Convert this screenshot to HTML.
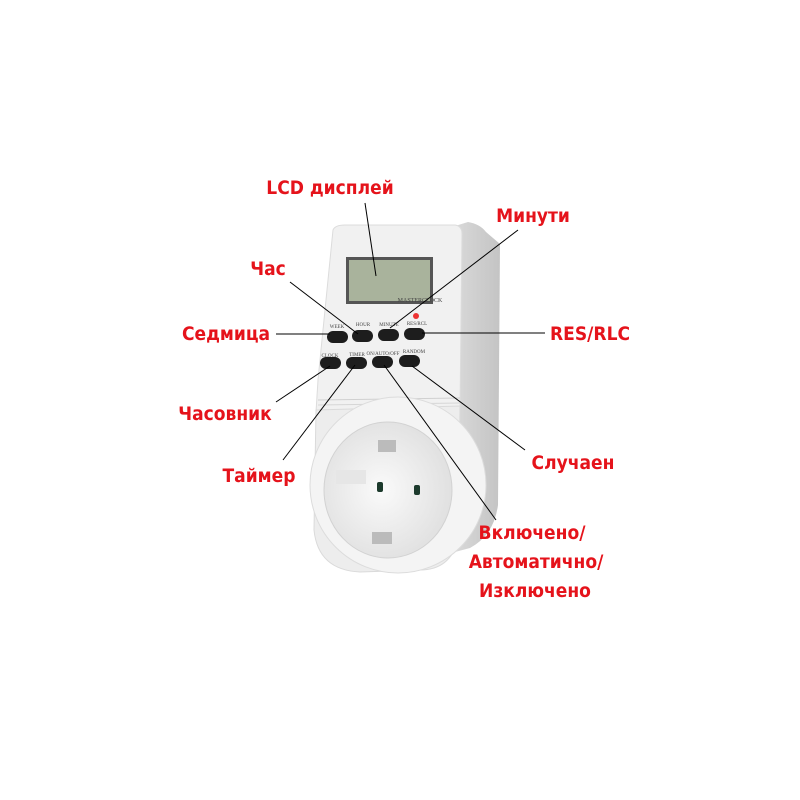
<!DOCTYPE html>
<html><head><meta charset="utf-8"><style>
html,body{margin:0;padding:0;background:#fff}
svg{display:block}
text.l{font-family:"DejaVu Sans Condensed","Liberation Sans Narrow","Liberation Sans",sans-serif;font-weight:bold;font-size:19px;fill:#e5131b;text-anchor:middle}
text.b{font-family:"Liberation Serif",serif;font-size:5px;fill:#444;text-anchor:middle}
</style></head><body>
<svg width="800" height="800" viewBox="0 0 800 800" xmlns="http://www.w3.org/2000/svg">
<defs>
<linearGradient id="side" x1="0" x2="1"><stop offset="0" stop-color="#d9d9d9"/><stop offset="1" stop-color="#c4c4c4"/></linearGradient>
<radialGradient id="sock" cx="0.45" cy="0.5" r="0.6"><stop offset="0" stop-color="#fafafa"/><stop offset="1" stop-color="#dedede"/></radialGradient>
</defs>
<!-- right side panel -->
<path d="M455 226 L468 222 Q480 224 486 232 L500 244 L498 505 Q494 535 470 548 L455 552 Z" fill="url(#side)"/>
<!-- upper front -->
<path d="M333 230 Q335 225 345 225 L455 225 Q462 226 462 234 L460 410 L316 412 L318 380 Z" fill="#f1f1f1" stroke="#dcdcdc"/>
<path d="M318 400 L460 398" stroke="#d0d0d0"/>
<path d="M318 405 L460 403" stroke="#d6d6d6"/>
<!-- lower front -->
<path d="M316 410 L460 406 L458 540 Q450 570 420 570 L360 572 Q318 570 314 530 Z" fill="#ededed" stroke="#dadada"/>
<!-- socket -->
<circle cx="398" cy="485" r="88" fill="#f4f4f4" stroke="#dcdcdc"/>
<ellipse cx="388" cy="490" rx="64" ry="68" fill="url(#sock)" stroke="#d2d2d2"/>
<rect x="336" y="470" width="30" height="14" fill="#e6e6e6"/>
<rect x="377" y="482" width="6" height="10" rx="2" fill="#1c3a2c"/>
<rect x="414" y="485" width="6" height="10" rx="2" fill="#1c3a2c"/>
<rect x="378" y="440" width="18" height="12" fill="#bbb"/>
<rect x="372" y="532" width="20" height="12" fill="#bbb"/>
<!-- LCD -->
<rect x="346" y="257" width="87" height="47" fill="#555"/>
<rect x="349" y="260" width="81" height="41" fill="#a9b39c"/>
<text x="420" y="302" class="b" style="font-size:6px">MASTERCLOCK</text>
<circle cx="416" cy="316" r="3" fill="#e33"/>
<!-- buttons row1 -->
<text x="337" y="328" class="b">WEEK</text><text x="363" y="326" class="b">HOUR</text><text x="389" y="326" class="b">MINUTE</text><text x="417" y="325" class="b">RES/RCL</text>
<rect x="327" y="331" width="21" height="12" rx="6" fill="#1d1d1d"/>
<rect x="352" y="330" width="21" height="12" rx="6" fill="#1d1d1d"/>
<rect x="378" y="329" width="21" height="12" rx="6" fill="#1d1d1d"/>
<rect x="404" y="328" width="21" height="12" rx="6" fill="#1d1d1d"/>
<text x="330" y="357" class="b">CLOCK</text><text x="357" y="356" class="b">TIMER</text><text x="383" y="355" class="b">ON/AUTO/OFF</text><text x="414" y="353" class="b">RANDOM</text>
<rect x="320" y="357" width="21" height="12" rx="6" fill="#1d1d1d"/>
<rect x="346" y="357" width="21" height="12" rx="6" fill="#1d1d1d"/>
<rect x="372" y="356" width="21" height="12" rx="6" fill="#1d1d1d"/>
<rect x="399" y="355" width="21" height="12" rx="6" fill="#1d1d1d"/>
<!-- leader lines -->
<g stroke="#000" stroke-width="1" fill="none">
<line x1="365" y1="203" x2="376" y2="276"/>
<line x1="518" y1="230" x2="390" y2="328"/>
<line x1="290" y1="282" x2="358" y2="334"/>
<line x1="276" y1="334" x2="330" y2="334"/>
<line x1="422" y1="333" x2="545" y2="333"/>
<line x1="276" y1="402" x2="330" y2="366"/>
<line x1="283" y1="460" x2="355" y2="365"/>
<line x1="384" y1="365" x2="496" y2="520"/>
<line x1="412" y1="366" x2="525" y2="450"/>
</g>
<!-- labels -->
<text x="330" y="194" class="l">LCD дисплей</text>
<text x="533" y="222" class="l">Минути</text>
<text x="268" y="275" class="l">Час</text>
<text x="226" y="340" class="l">Седмица</text>
<text x="590" y="340" class="l">RES/RLC</text>
<text x="225" y="420" class="l">Часовник</text>
<text x="259" y="482" class="l">Таймер</text>
<text x="573" y="469" class="l">Случаен</text>
<text x="532" y="539" class="l">Включено/</text>
<text x="536" y="568" class="l">Автоматично/</text>
<text x="535" y="597" class="l">Изключено</text>
</svg>
</body></html>
